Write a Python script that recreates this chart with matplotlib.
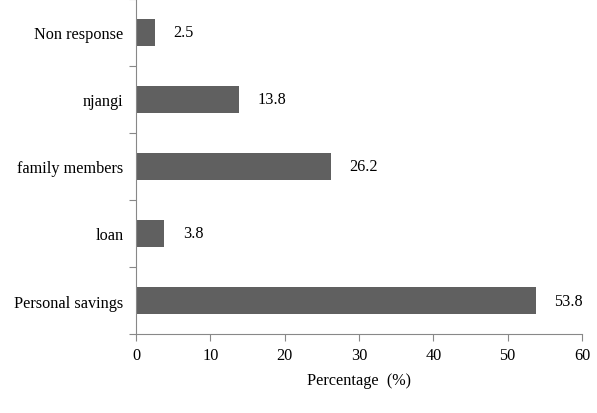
import numpy as np
from matplotlib import pyplot as plt

categories = ["Personal savings", "loan", "family members", "njangi", "Non response"]
values = [53.8, 3.8, 26.2, 13.8, 2.5]
xticks = [0, 10, 20, 30, 40, 50, 60]

plt.rcParams['font.family'] = ['Liberation Serif', 'DejaVu Serif']
fs = 11.7

fig = plt.figure(figsize=(5.97, 4.14), dpi=100)
ax = fig.add_axes([136/597, 1 - 335/414, (582-136)/597, 335/414])

y = np.arange(len(categories))
bars = ax.barh(y, values, height=0.4, color='#606060')
for rect, v in zip(bars, values):
    ax.text(rect.get_width() + 2.5, rect.get_y() + rect.get_height()/2, str(v),
            va='center', ha='left', fontsize=fs)

ax.set_xlim(0, 60)
ax.set_ylim(-0.5, len(categories) - 0.5)
ax.set_xticks(xticks)
ax.set_xticklabels([str(t) for t in xticks], fontsize=fs)
ax.set_yticks(np.arange(-0.5, len(categories), 1.0))
ax.set_yticklabels([])
ax.set_yticks(y, minor=True)
ax.set_yticklabels(categories, minor=True, fontsize=fs)
ax.tick_params(axis='y', which='minor', length=0, pad=9)
ax.tick_params(axis='y', which='major', length=5, color='#888888')
ax.tick_params(axis='x', length=5, color='#888888', pad=4)

for s in ['top', 'right']:
    ax.spines[s].set_visible(False)
for s in ['left', 'bottom']:
    ax.spines[s].set_color('#888888')

ax.set_xlabel('Percentage  (%)', fontsize=fs, labelpad=7)

fig.savefig('out.png', dpi=100)
